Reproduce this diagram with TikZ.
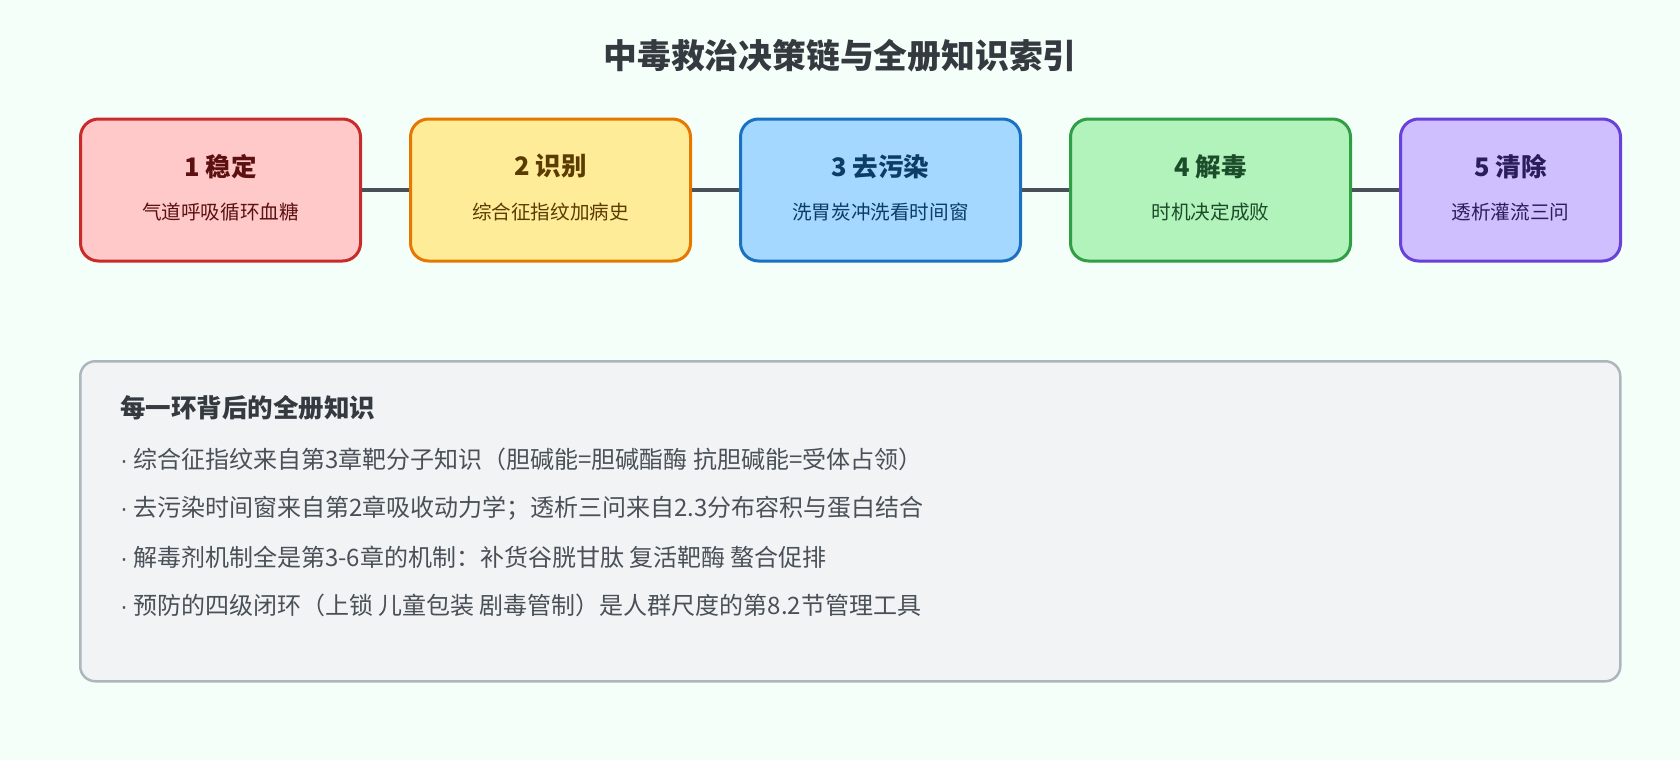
\documentclass[tikz,border=0pt]{standalone}
\usepackage{fontspec}
\setmainfont{Noto Sans CJK SC}
\newfontfamily\latinfont{Liberation Sans}
\usetikzlibrary{positioning}
\definecolor{bg}{HTML}{F5FFFA}
\definecolor{titlec}{HTML}{343A40}
\definecolor{linkc}{HTML}{495057}
\definecolor{panelfill}{HTML}{F2F3F5}
\definecolor{paneldraw}{HTML}{ADB5BD}
\definecolor{bodyc}{HTML}{495057}
\definecolor{fA}{HTML}{FFC9C9}\definecolor{dA}{HTML}{C92A2A}\definecolor{tA}{HTML}{5C1010}
\definecolor{fB}{HTML}{FFEC99}\definecolor{dB}{HTML}{E67700}\definecolor{tB}{HTML}{5C3B00}
\definecolor{fC}{HTML}{A5D8FF}\definecolor{dC}{HTML}{1971C2}\definecolor{tC}{HTML}{0B3D66}
\definecolor{fD}{HTML}{B2F2BB}\definecolor{dD}{HTML}{2F9E44}\definecolor{tD}{HTML}{1B4D2B}
\definecolor{fE}{HTML}{D0BFFF}\definecolor{dE}{HTML}{6741D9}\definecolor{tE}{HTML}{2B1D5C}
\newcommand{\bdot}{\makebox[13pt][l]{\latinfont ·}}
\tikzset{
  stagebox/.style={draw, line width=3pt, rounded corners=18pt, minimum height=142pt, inner sep=0pt, anchor=west},
  stagehead/.style={font=\fontsize{25.5}{30}\selectfont\bfseries, inner sep=0pt},
  stagesub/.style={font=\fontsize{19.6}{24}\selectfont, inner sep=0pt},
  link/.style={draw=linkc, line width=3.5pt},
  bullet/.style={font=\fontsize{24}{28}\selectfont, text=bodyc, anchor=west, inner sep=0pt},
}
\begin{document}
\begin{tikzpicture}[x=1pt,y=-1pt]
\fill[bg] (0,0) rectangle (1680,760);
\useasboundingbox (0,0) rectangle (1680,760);
\node[font=\fontsize{33.8}{40}\selectfont\bfseries, text=titlec, inner sep=0pt] (title) at (840,56) {中毒救治决策链与全册知识索引};

\node[stagebox, fill=fA, draw=dA, minimum width=280pt] (s1) at (79,190) {};
\node[stagebox, fill=fB, draw=dB, minimum width=280pt] (s2) at (409,190) {};
\node[stagebox, fill=fC, draw=dC, minimum width=280pt] (s3) at (739,190) {};
\node[stagebox, fill=fD, draw=dD, minimum width=280pt] (s4) at (1069,190) {};
\node[stagebox, fill=fE, draw=dE, minimum width=220pt] (s5) at (1399,190) {};

\draw[link] (s1.east) -- (s2.west);
\draw[link] (s2.east) -- (s3.west);
\draw[link] (s3.east) -- (s4.west);
\draw[link] (s4.east) -- (s5.west);

\node[stagehead, text=tA] (h1) at ([yshift=23.5pt]s1.center) {1 稳定};
\node[stagesub, text=tA] (b1) at ([yshift=-22.5pt]s1.center) {气道呼吸循环血糖};
\node[stagehead, text=tB] (h2) at ([yshift=23.5pt]s2.center) {2 识别};
\node[stagesub, text=tB] (b2) at ([yshift=-22.5pt]s2.center) {综合征指纹加病史};
\node[stagehead, text=tC] (h3) at ([yshift=23.5pt]s3.center) {3 去污染};
\node[stagesub, text=tC] (b3) at ([yshift=-22.5pt]s3.center) {洗胃炭冲洗看时间窗};
\node[stagehead, text=tD] (h4) at ([yshift=23.5pt]s4.center) {4 解毒};
\node[stagesub, text=tD] (b4) at ([yshift=-22.5pt]s4.center) {时机决定成败};
\node[stagehead, text=tE] (h5) at ([yshift=23.5pt]s5.center) {5 清除};
\node[stagesub, text=tE] (b5) at ([yshift=-22.5pt]s5.center) {透析灌流三问};

\node[draw=paneldraw, fill=panelfill, line width=2.5pt, rounded corners=15pt, minimum width=1540pt, minimum height=320pt, anchor=north west, inner sep=0pt] (panel) at (79,360) {};
\node[font=\fontsize{25.5}{30}\selectfont\bfseries, text=titlec, anchor=west, inner sep=0pt] (ph) at (120,407.5) {每一环背后的全册知识};
\node[bullet] (l1) at (120,459) {\bdot 综合征指纹来自第3章靶分子知识（胆碱能=胆碱酯酶 抗胆碱能=受体占领）};
\node[bullet] (l2) at (120,508) {\bdot 去污染时间窗来自第2章吸收动力学；透析三问来自2.3分布容积与蛋白结合};
\node[bullet] (l3) at (120,557) {\bdot 解毒剂机制全是第3-6章的机制：补货谷胱甘肽 复活靶酶 螯合促排};
\node[bullet] (l4) at (120,605) {\bdot 预防的四级闭环（上锁 儿童包装 剧毒管制）是人群尺度的第8.2节管理工具};
\end{tikzpicture}
\end{document}
